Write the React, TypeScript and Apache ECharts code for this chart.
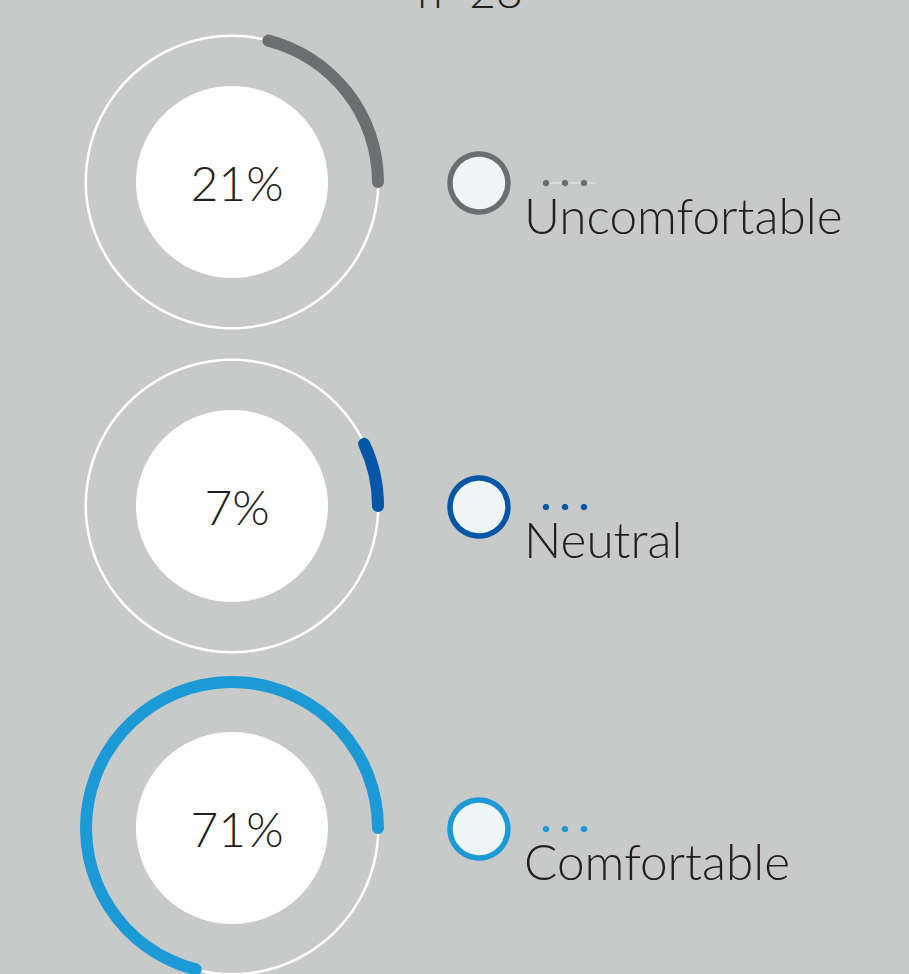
import React, { useEffect, useRef } from "react";
import * as echarts from "echarts";

const categories = ["Uncomfortable", "Neutral", "Comfortable"];
const percentValues = [21, 7, 71];
const sampleLabel = "n=28";

const colors = ["#6d6e71", "#0456a6", "#1b9ad6"];
const centersY = [182, 506, 828];
const centerX = 232;
const legendX = 479;
const textColor = "#231f20";
const fontFamily = "Lato";
const fontWeight = 300;

export default function App() {
  const ref = useRef<HTMLDivElement>(null);
  useEffect(() => {
    document.body.style.margin = "0";
    if (!ref.current) return;
    const chart = echarts.init(ref.current, null, { renderer: "svg" });

    const polar = centersY.map((cy) => ({ center: [centerX, cy], radius: [140, 152] }));
    const angleAxis = centersY.map((_, i) => ({
      polarIndex: i,
      type: "value",
      min: 0,
      max: 100,
      startAngle: 0,
      clockwise: false,
      show: false,
    }));
    const radiusAxis = centersY.map((_, i) => ({
      polarIndex: i,
      type: "category",
      data: [categories[i]],
      show: false,
    }));

    const series: any[] = [];
    centersY.forEach((cy, i) => {
      series.push({
        type: "pie",
        center: [centerX, cy],
        radius: [145, 147.5],
        silent: true,
        z: 1,
        data: [{ value: 1, name: "ring" + i }],
        itemStyle: { color: "#ffffff" },
        label: { show: false },
        labelLine: { show: false },
        emphasis: { disabled: true },
      });
      series.push({
        type: "pie",
        center: [centerX, cy],
        radius: [0, 96],
        silent: true,
        z: 1,
        data: [{ value: percentValues[i], name: categories[i] }],
        itemStyle: { color: "#ffffff" },
        label: {
          show: true,
          position: "center",
          formatter: "{c}%",
          fontSize: 48,
          fontFamily,
          fontWeight,
          color: textColor,
          padding: [0, 0, 0, 10],
        },
        labelLine: { show: false },
        emphasis: { disabled: true },
      });
      series.push({
        type: "bar",
        coordinateSystem: "polar",
        polarIndex: i,
        data: [percentValues[i]],
        roundCap: true,
        barWidth: 12,
        z: 3,
        silent: true,
        itemStyle: { color: colors[i] },
      });
    });

    const graphic: any[] = [
      {
        type: "text",
        x: 470,
        y: -10,
        style: {
          text: sampleLabel,
          font: `${fontWeight} 46px ${fontFamily}`,
          fill: textColor,
          textAlign: "center",
          textVerticalAlign: "middle",
        },
      },
    ];
    centersY.forEach((cy, i) => {
      if (i === 0) {
        graphic.push({
          type: "line",
          shape: { x1: 542, y1: cy + 1, x2: 596, y2: cy + 1 },
          style: { stroke: "#eeeeee", lineWidth: 1 },
        });
      }
      graphic.push({
        type: "circle",
        shape: { cx: legendX, cy: cy + 1, r: 29 },
        style: { fill: "#eef6f8", stroke: colors[i], lineWidth: 5.5 },
      });
      [546, 565, 584].forEach((dx) => {
        graphic.push({
          type: "circle",
          shape: { cx: dx, cy: cy + 1, r: 3.3 },
          style: { fill: colors[i] },
        });
      });
      graphic.push({
        type: "text",
        x: 524,
        y: cy + 33,
        style: {
          text: categories[i],
          font: `${fontWeight} 49.5px ${fontFamily}`,
          fill: textColor,
          textAlign: "left",
          textVerticalAlign: "middle",
        },
      });
    });

    chart.setOption({
      animation: false,
      backgroundColor: "#c8cac9",
      polar,
      angleAxis,
      radiusAxis,
      series,
      graphic,
    });
    return () => chart.dispose();
  }, []);
  return <div ref={ref} style={{ width: 909, height: 974 }} />;
}
